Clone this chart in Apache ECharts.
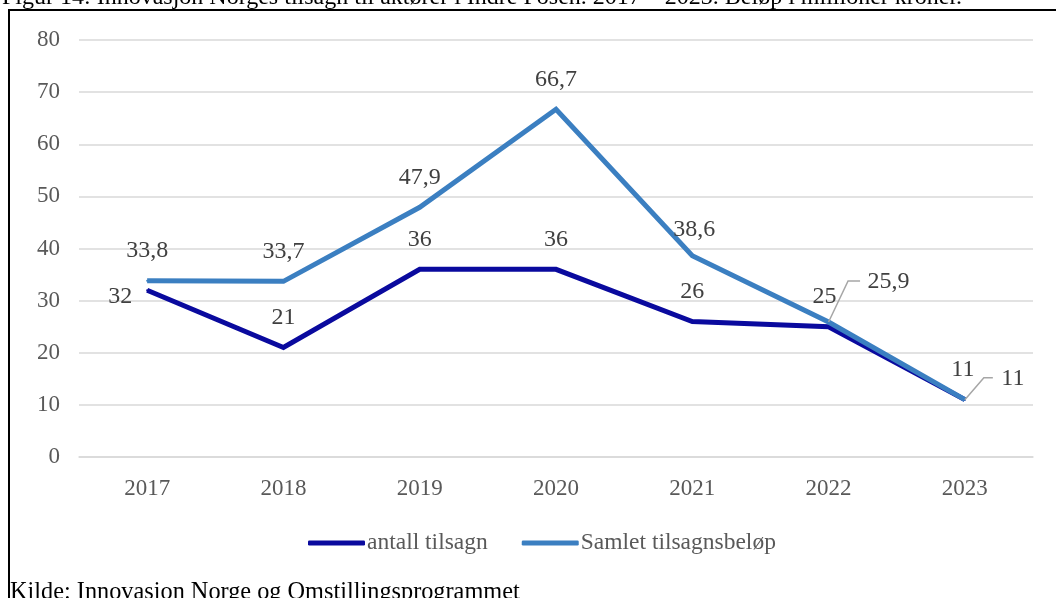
<!DOCTYPE html>
<html>
<head>
<meta charset="utf-8">
<script src="https://cdn.jsdelivr.net/npm/echarts@6/dist/echarts.min.js"></script>
<style>
  html, body { margin: 0; padding: 0; background: #fff; }
  #chart { width: 1056px; height: 598px; }
</style>
</head>
<body>
<div id="chart"></div>
<script>
// Innovasjon Norge: tilsagn til aktører i Indre Fosen, 2017–2023
const years = ['2017', '2018', '2019', '2020', '2021', '2022', '2023'];
const antallTilsagn = [32, 21, 36, 36, 26, 25, 11];
const samletBelop = [33.8, 33.7, 47.9, 66.7, 38.6, 25.9, 11];
const yTicks = [0, 10, 20, 30, 40, 50, 60, 70, 80];

const seriesNames = ['antall tilsagn', 'Samlet tilsagnsbeløp'];
const titleText = 'Figur 14: Innovasjon Norges tilsagn til aktører i Indre Fosen. 2017 – 2023. Beløp i millioner kroner.';
const sourceText = 'Kilde: Innovasion Norge og Omstillingsprogrammet';

const FONT = '"Liberation Serif", "Times New Roman", serif';
const DARK = '#0a0a9e';
const LIGHT = '#3b7fc1';
const fmt = v => String(v).replace('.', ',');

const baseLabel = {
  show: true,
  position: 'top',
  distance: 17,
  fontFamily: FONT,
  fontSize: 24,
  lineHeight: 24,
  color: '#404040',
  formatter: p => fmt(p.value)
};

// per-point label tweaks (index -> label overrides)
const antallLabelTweaks = {
  0: { position: 'left', distance: 14, offset: [0, 7] },
  5: { offset: [-4, 0] },
  6: { offset: [-2, 0] }
};
const belopLabelTweaks = {
  4: { offset: [2, 4] },
  5: { offset: [60, -10] },
  6: { offset: [48, 9] }
};
// leader-line bends for the moved labels, relative to the point
const leaderBends = {
  5: [[19.5, -41], [31.5, -41]],
  6: [[19, -22], [28, -22]]
};

function buildData(values, tweaks) {
  return values.map((v, i) => tweaks[i] ? { value: v, label: tweaks[i] } : v);
}

const chart = echarts.init(document.getElementById('chart'), null, { renderer: 'canvas' });

const option = {
  backgroundColor: '#ffffff',
  animation: false,
  grid: { left: 79, right: 23, top: 40, bottom: 141, containLabel: false },
  legend: {
    data: seriesNames,
    left: 303,
    top: 526,
    icon: 'roundRect',
    itemWidth: 57,
    itemHeight: 5,
    itemGap: 34,
    textStyle: { fontFamily: FONT, fontSize: 23.5, color: '#595959', padding: [0, 0, 0, -3] }
  },
  xAxis: {
    type: 'category',
    data: years,
    boundaryGap: true,
    axisLine: { show: true, lineStyle: { color: '#d9d9d9', width: 1.5 } },
    axisTick: { show: false },
    axisLabel: { margin: 20, fontFamily: FONT, fontSize: 23, lineHeight: 24, color: '#595959' }
  },
  yAxis: {
    type: 'value',
    min: yTicks[0],
    max: yTicks[yTicks.length - 1],
    interval: yTicks[1] - yTicks[0],
    axisLine: { show: false },
    axisTick: { show: false },
    axisLabel: { margin: 19, fontFamily: FONT, fontSize: 23, color: '#595959' },
    splitLine: { lineStyle: { color: '#d9d9d9', width: 1.5 } }
  },
  series: [
    {
      name: seriesNames[0],
      type: 'line',
      data: buildData(antallTilsagn, antallLabelTweaks),
      symbol: 'circle',
      symbolSize: 2,
      itemStyle: { color: DARK },
      lineStyle: { color: DARK, width: 5, join: 'miter' },
      label: baseLabel,
      z: 2
    },
    {
      name: seriesNames[1],
      type: 'line',
      data: buildData(samletBelop, belopLabelTweaks),
      symbol: 'circle',
      symbolSize: 2,
      itemStyle: { color: LIGHT },
      lineStyle: { color: LIGHT, width: 5, join: 'miter' },
      label: baseLabel,
      z: 3
    }
  ],
  graphic: []
};

chart.setOption(option);

// frame, caption, source and leader lines
const graphics = [
  {
    type: 'rect',
    shape: { x: 9, y: 10, width: 1052, height: 600 },
    style: { fill: null, stroke: '#000', lineWidth: 2 },
    silent: true, z: 0
  },
  {
    type: 'text',
    left: 2, top: -14,
    style: { text: titleText, fontFamily: FONT, fontSize: 24, fill: '#000' },
    silent: true
  },
  {
    type: 'text',
    left: 10, top: 581,
    style: { text: sourceText, fontFamily: FONT, fontSize: 24.3, fill: '#000' },
    silent: true
  }
];

Object.keys(leaderBends).forEach(k => {
  const i = Number(k);
  const p = chart.convertToPixel({ seriesIndex: 1 }, [years[i], samletBelop[i]]);
  const pts = [[p[0], p[1]]].concat(leaderBends[k].map(d => [p[0] + d[0], p[1] + d[1]]));
  graphics.push({
    type: 'polyline',
    shape: { points: pts },
    style: { stroke: '#a6a6a6', lineWidth: 1.5, fill: null },
    silent: true, z: 10
  });
});

chart.setOption({ graphic: graphics });
</script>
</body>
</html>
